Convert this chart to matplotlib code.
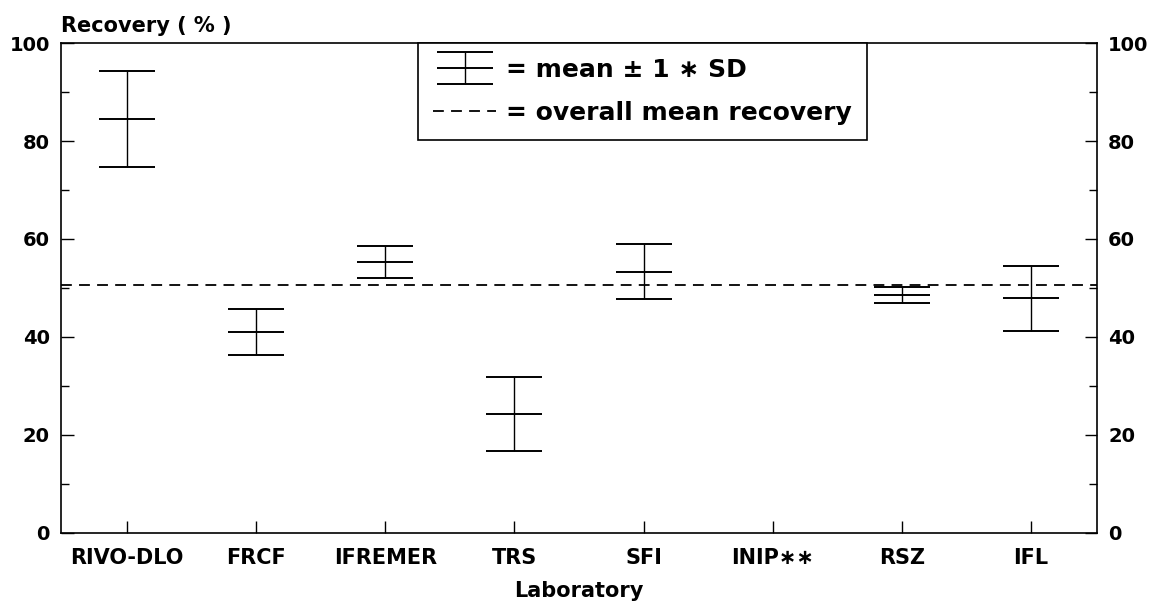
import numpy as np
import matplotlib.pyplot as plt
from matplotlib.legend_handler import HandlerErrorbar

# recovery per laboratory (mean and SD), INIP** has no result
labs = ['RIVO-DLO', 'FRCF', 'IFREMER', 'TRS', 'SFI', 'INIP\u2217\u2217', 'RSZ', 'IFL']
mean_rec = [84.4, 41.0, 55.3, 24.3, 53.3, np.nan, 48.6, 47.9]
sd_rec = [9.8, 4.7, 3.3, 7.6, 5.6, np.nan, 1.6, 6.6]
overall_mean = 50.6

plt.rcParams['font.family'] = ['DejaVu Sans']
plt.rcParams['font.weight'] = 'bold'

fig = plt.figure(figsize=(11.58, 6.11), dpi=100)
ax = fig.add_axes([0.0527, 0.1277, 0.8946, 0.8019])

x = np.arange(len(labs))
eb = ax.errorbar(x, mean_rec, yerr=sd_rec, fmt='_', color='black',
                 markersize=41, markeredgewidth=1.4, elinewidth=1.0,
                 capsize=20.5, capthick=1.4, label='= mean \u00b1 1 \u2217 SD')
ln = ax.axhline(overall_mean, color='black', lw=1.3, linestyle=(0, (6, 4)),
                label='= overall mean recovery')

ax.set_xlim(-0.51, len(labs) - 0.49)
ax.set_ylim(0, 100)
ax.set_xticks(x)
ax.set_xticklabels(labs)
ax.set_yticks(np.arange(0, 101, 20))
ax.set_yticks(np.arange(10, 100, 20), minor=True)

ax.tick_params(axis='y', which='both', direction='in', left=True, right=True,
               labelleft=True, labelright=True, labelsize=14, pad=8)
ax.tick_params(axis='y', which='major', length=9, width=1)
ax.tick_params(axis='y', which='minor', length=6, width=1)
ax.tick_params(axis='x', direction='in', length=9, width=1, labelsize=15, pad=11)
for s in ax.spines.values():
    s.set_linewidth(1.2)

ax.text(0, 1.015, 'Recovery ( % )', transform=ax.transAxes, ha='left',
        va='bottom', fontsize=15, fontweight='bold')
ax.set_xlabel('Laboratory', fontsize=15, fontweight='bold', labelpad=9)

leg = ax.legend(handles=[eb, ln], loc='upper left', bbox_to_anchor=(0.345, 1.0),
                handler_map={type(eb): HandlerErrorbar(yerr_size=0.64)},
                borderaxespad=0, fancybox=False, framealpha=1, edgecolor='black',
                fontsize=18, handlelength=2.5, handletextpad=0.4,
                borderpad=0.6, labelspacing=0.75)
leg.get_frame().set_linewidth(1.2)

fig.savefig('out.png', dpi=100)
